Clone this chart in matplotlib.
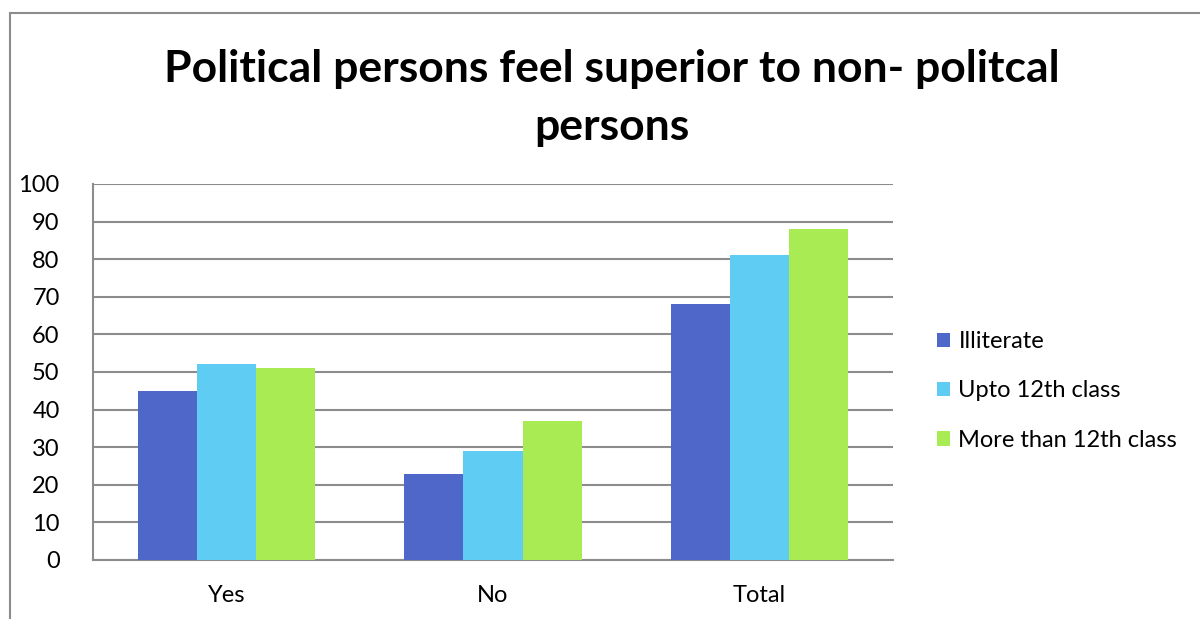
from matplotlib import pyplot as plt
from matplotlib.patches import Rectangle
import numpy as np

categories = ["Yes", "No", "Total"]
series_names = ["Illiterate", "Upto 12th class", "More than 12th class"]
illiterate = [45, 23, 68]
upto_12th = [52, 29, 81]
more_than_12th = [51, 37, 88]
yticks = list(range(0, 101, 10))

colors = ["#4F67C8", "#5ECCF3", "#A9EB53"]
grid_color = "#8C8C8C"

plt.rcParams["font.family"] = ["Lato", "DejaVu Sans"]

fig = plt.figure(figsize=(12, 6.19), dpi=100)
ax = fig.add_axes([93 / 1200, 1 - 560 / 619, 800 / 1200, 376 / 619])

x = np.arange(len(categories))
w = 0.222
for i, (vals, name) in enumerate(zip([illiterate, upto_12th, more_than_12th], series_names)):
    ax.bar(x + (i - 1) * w, vals, width=w, color=colors[i], label=name, zorder=3)

ax.set_xlim(-0.5, 2.5)
ax.set_ylim(0, 100)
ax.set_yticks(yticks)
ax.set_xticks(x)
ax.set_xticklabels(categories)
ax.tick_params(axis="both", length=0, labelsize=17, colors="black")
ax.tick_params(axis="y", pad=24)
ax.tick_params(axis="x", pad=18)
ax.yaxis.grid(True, color=grid_color, linewidth=1.5, zorder=0)
for s in ["top", "right"]:
    ax.spines[s].set_visible(False)
ax.spines["left"].set_color(grid_color)
ax.spines["left"].set_linewidth(1.5)
ax.spines["bottom"].set_color(grid_color)
ax.spines["bottom"].set_linewidth(1.5)

fig.text(612 / 1200, 1 - 98 / 619, "Political persons feel superior to non- politcal\npersons",
         ha="center", va="center", fontsize=32, fontweight="bold", linespacing=1.55)

leg = fig.legend(loc="center left", bbox_to_anchor=(916 / 1200, 1 - 391 / 619), frameon=False,
                 fontsize=17, handlelength=0.55, handleheight=0.55, handletextpad=0.35,
                 labelspacing=1.2)

fig.patches.append(Rectangle((10 / 1200, -0.1), 1.2, (1 - 13 / 619) + 0.1, transform=fig.transFigure,
                             fill=False, edgecolor="#8C8C8C", linewidth=1.5))

fig.savefig("out.png", dpi=100)
